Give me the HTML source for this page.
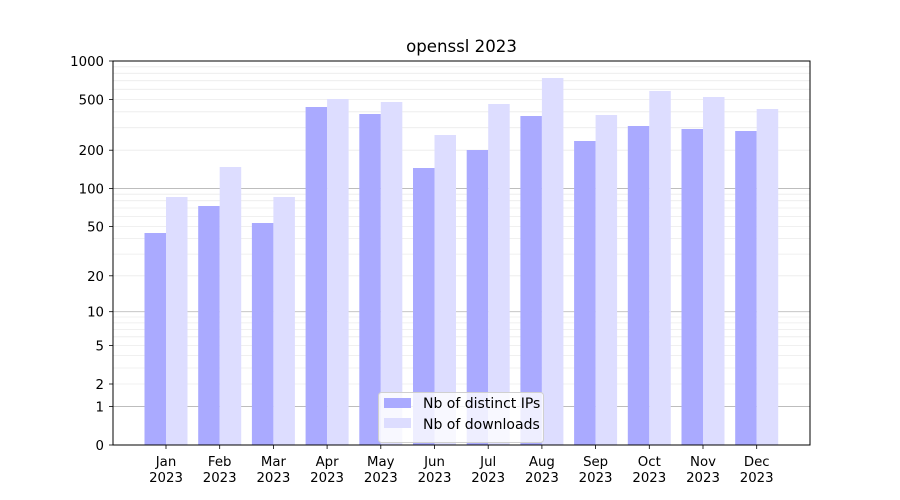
<!DOCTYPE html>
<html><head><meta charset="utf-8"><style>body{margin:0;background:#fff}svg{display:block}text{font-family:"DejaVu Sans","Liberation Sans",sans-serif;font-size:13.3px;fill:#000}</style></head>
<body>
<svg width="900" height="500" xmlns="http://www.w3.org/2000/svg">
<rect width="900" height="500" fill="#fff"/>
<g stroke="#ebebeb" stroke-width="0.8">
<line x1="113" x2="810" y1="384" y2="384"/><line x1="113" x2="810" y1="368" y2="368"/><line x1="113" x2="810" y1="355.5" y2="355.5"/><line x1="113" x2="810" y1="345.4" y2="345.4"/><line x1="113" x2="810" y1="336.8" y2="336.8"/><line x1="113" x2="810" y1="329.4" y2="329.4"/><line x1="113" x2="810" y1="322.9" y2="322.9"/><line x1="113" x2="810" y1="317" y2="317"/>
<line x1="113" x2="810" y1="275.8" y2="275.8"/><line x1="113" x2="810" y1="254.1" y2="254.1"/><line x1="113" x2="810" y1="238.6" y2="238.6"/><line x1="113" x2="810" y1="226.4" y2="226.4"/><line x1="113" x2="810" y1="216.5" y2="216.5"/><line x1="113" x2="810" y1="208" y2="208"/><line x1="113" x2="810" y1="200.7" y2="200.7"/><line x1="113" x2="810" y1="194.2" y2="194.2"/>
<line x1="113" x2="810" y1="150.2" y2="150.2"/><line x1="113" x2="810" y1="127.7" y2="127.7"/><line x1="113" x2="810" y1="111.8" y2="111.8"/><line x1="113" x2="810" y1="99.4" y2="99.4"/><line x1="113" x2="810" y1="89.3" y2="89.3"/><line x1="113" x2="810" y1="80.7" y2="80.7"/><line x1="113" x2="810" y1="73.3" y2="73.3"/><line x1="113" x2="810" y1="66.8" y2="66.8"/>
</g>
<g stroke="#bdbdbd" stroke-width="0.9">
<line x1="113" x2="810" y1="406.5" y2="406.5"/><line x1="113" x2="810" y1="311.7" y2="311.7"/><line x1="113" x2="810" y1="188.5" y2="188.5"/>
</g>
<g fill="#aaaaff">
<rect x="144.5" y="233" width="21.5" height="212"/>
<rect x="198.2" y="206" width="21.5" height="239"/>
<rect x="251.9" y="223" width="21.5" height="222"/>
<rect x="305.6" y="107" width="21.5" height="338"/>
<rect x="359.3" y="114" width="21.5" height="331"/>
<rect x="413" y="168" width="21.5" height="277"/>
<rect x="466.7" y="150" width="21.5" height="295"/>
<rect x="520.4" y="116" width="21.5" height="329"/>
<rect x="574.1" y="141" width="21.5" height="304"/>
<rect x="627.8" y="126" width="21.5" height="319"/>
<rect x="681.5" y="129" width="21.5" height="316"/>
<rect x="735.2" y="131" width="21.5" height="314"/>
</g>
<g fill="#ddddff">
<rect x="166" y="197" width="21.5" height="248"/>
<rect x="219.7" y="167" width="21.5" height="278"/>
<rect x="273.4" y="197" width="21.5" height="248"/>
<rect x="327.1" y="99" width="21.5" height="346"/>
<rect x="380.8" y="102" width="21.5" height="343"/>
<rect x="434.5" y="135" width="21.5" height="310"/>
<rect x="488.2" y="104" width="21.5" height="341"/>
<rect x="541.9" y="78" width="21.5" height="367"/>
<rect x="595.6" y="115" width="21.5" height="330"/>
<rect x="649.3" y="91" width="21.5" height="354"/>
<rect x="703" y="97" width="21.5" height="348"/>
<rect x="756.7" y="109" width="21.5" height="336"/>
</g>
<rect x="113" y="61" width="697" height="384" fill="none" stroke="#000" stroke-width="1"/>
<g stroke="#000" stroke-width="0.8">
<line x1="109" x2="113" y1="445" y2="445"/><line x1="109" x2="113" y1="406.5" y2="406.5"/><line x1="109" x2="113" y1="384" y2="384"/><line x1="109" x2="113" y1="345.4" y2="345.4"/><line x1="109" x2="113" y1="311.7" y2="311.7"/><line x1="109" x2="113" y1="275.8" y2="275.8"/><line x1="109" x2="113" y1="226.4" y2="226.4"/><line x1="109" x2="113" y1="188.5" y2="188.5"/><line x1="109" x2="113" y1="150.2" y2="150.2"/><line x1="109" x2="113" y1="99.4" y2="99.4"/><line x1="109" x2="113" y1="61" y2="61"/>
</g>
<g text-anchor="end">
<text x="104" y="450">0</text><text x="104" y="411.5">1</text><text x="104" y="389">2</text><text x="104" y="350.4">5</text><text x="104" y="316.7">10</text><text x="104" y="280.8">20</text><text x="104" y="231.4">50</text><text x="104" y="193.5">100</text><text x="104" y="155.2">200</text><text x="104" y="104.4">500</text><text x="104" y="66">1000</text>
</g>
<g stroke="#000" stroke-width="0.8">
<line x1="166" x2="166" y1="445" y2="449"/><line x1="219.7" x2="219.7" y1="445" y2="449"/><line x1="273.4" x2="273.4" y1="445" y2="449"/><line x1="327.1" x2="327.1" y1="445" y2="449"/><line x1="380.8" x2="380.8" y1="445" y2="449"/><line x1="434.5" x2="434.5" y1="445" y2="449"/><line x1="488.2" x2="488.2" y1="445" y2="449"/><line x1="541.9" x2="541.9" y1="445" y2="449"/><line x1="595.6" x2="595.6" y1="445" y2="449"/><line x1="649.3" x2="649.3" y1="445" y2="449"/><line x1="703" x2="703" y1="445" y2="449"/><line x1="756.7" x2="756.7" y1="445" y2="449"/>
</g>
<g text-anchor="middle">
<text x="166" y="466">Jan</text><text x="166" y="482">2023</text>
<text x="219.7" y="466">Feb</text><text x="219.7" y="482">2023</text>
<text x="273.4" y="466">Mar</text><text x="273.4" y="482">2023</text>
<text x="327.1" y="466">Apr</text><text x="327.1" y="482">2023</text>
<text x="380.8" y="466">May</text><text x="380.8" y="482">2023</text>
<text x="434.5" y="466">Jun</text><text x="434.5" y="482">2023</text>
<text x="488.2" y="466">Jul</text><text x="488.2" y="482">2023</text>
<text x="541.9" y="466">Aug</text><text x="541.9" y="482">2023</text>
<text x="595.6" y="466">Sep</text><text x="595.6" y="482">2023</text>
<text x="649.3" y="466">Oct</text><text x="649.3" y="482">2023</text>
<text x="703" y="466">Nov</text><text x="703" y="482">2023</text>
<text x="756.7" y="466">Dec</text><text x="756.7" y="482">2023</text>
<text x="461.5" y="52" style="font-size:16.6px">openssl 2023</text>
</g>
<rect x="378.5" y="392.5" width="165" height="50" rx="3" fill="#fff" fill-opacity="0.8" stroke="#d0d0d0"/>
<rect x="384" y="398" width="27" height="10" fill="#aaaaff"/>
<rect x="384" y="418" width="27" height="10" fill="#ddddff"/>
<text x="423" y="408" style="font-size:14px">Nb of distinct IPs</text>
<text x="423" y="429" style="font-size:14px">Nb of downloads</text>
</svg>
</body></html>
